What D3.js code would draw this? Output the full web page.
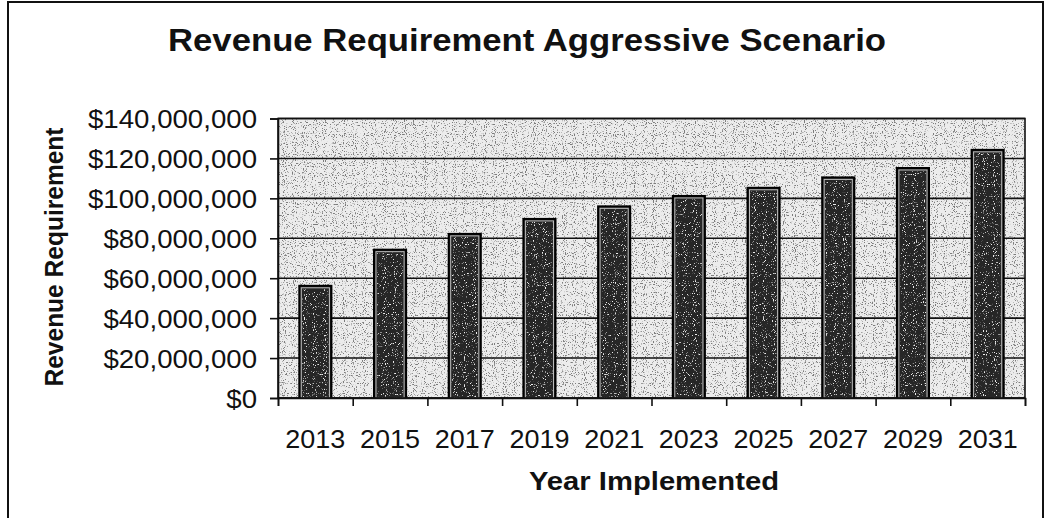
<!DOCTYPE html>
<html>
<head>
<meta charset="utf-8">
<script src="https://cdn.jsdelivr.net/npm/d3@7"></script>
<style>
  html, body { margin: 0; padding: 0; background: #fff; }
  svg { display: block; font-family: "Liberation Sans", Arial, sans-serif; }
</style>
</head>
<body>
<svg id="chart" width="1045" height="518"></svg>
<script>
const years = ["2013", "2015", "2017", "2019", "2021", "2023", "2025", "2027", "2029", "2031"];
const revenue = [56200000, 74300000, 82200000, 89700000, 96000000, 101200000, 105300000, 110500000, 115200000, 124300000];
const yTicks = [0, 20000000, 40000000, 60000000, 80000000, 100000000, 120000000, 140000000];
const chartTitle = "Revenue Requirement Aggressive Scenario";
const xTitle = "Year Implemented";
const yTitle = "Revenue Requirement";

const svg = d3.select("#chart");
const plot = { left: 278, right: 1025, top: 118.5, bottom: 398 };

const defs = svg.append("defs");
const f1 = defs.append("filter").attr("id", "stip").attr("x", 0).attr("y", 0).attr("width", "100%").attr("height", "100%");
f1.append("feTurbulence").attr("type", "fractalNoise").attr("baseFrequency", 0.9).attr("numOctaves", 1).attr("seed", 4).attr("result", "n");
f1.append("feColorMatrix").attr("in", "n").attr("type", "matrix")
  .attr("values", "0 0 0 0 0.2  0 0 0 0 0.2  0 0 0 0 0.2  9 0 0 0 -5.1").attr("result", "dots");
f1.append("feComposite").attr("in", "dots").attr("in2", "SourceGraphic").attr("operator", "in");
const f2 = defs.append("filter").attr("id", "stip2").attr("x", 0).attr("y", 0).attr("width", "100%").attr("height", "100%");
f2.append("feTurbulence").attr("type", "fractalNoise").attr("baseFrequency", 0.9).attr("numOctaves", 1).attr("seed", 9).attr("result", "n");
f2.append("feColorMatrix").attr("in", "n").attr("type", "matrix")
  .attr("values", "0 0 0 0 0.85  0 0 0 0 0.85  0 0 0 0 0.85  9 0 0 0 -5.4").attr("result", "dots");
f2.append("feComposite").attr("in", "dots").attr("in2", "SourceGraphic").attr("operator", "in");

// outer chart border
svg.append("rect").attr("x", 8).attr("y", 2).attr("width", 1035).attr("height", 530)
  .attr("fill", "#fff").attr("stroke", "#111").attr("stroke-width", 2);

const x = d3.scaleBand().domain(years).range([plot.left, plot.right]).paddingInner(0.57).paddingOuter(0.285);
const xEdge = d3.scaleLinear().domain([0, years.length]).range([plot.left, plot.right]);
const y = d3.scaleLinear().domain([0, 140000000]).range([plot.bottom, plot.top]);

// plot background
svg.append("rect").attr("x", plot.left).attr("y", plot.top)
  .attr("width", plot.right - plot.left).attr("height", plot.bottom - plot.top)
  .attr("fill", "#ececec");
svg.append("rect").attr("x", plot.left).attr("y", plot.top)
  .attr("width", plot.right - plot.left).attr("height", plot.bottom - plot.top)
  .attr("fill", "#fff").attr("filter", "url(#stip)");

// gridlines
svg.append("g").selectAll("line").data(yTicks).join("line")
  .attr("x1", plot.left).attr("x2", plot.right)
  .attr("y1", d => y(d)).attr("y2", d => y(d))
  .attr("stroke", "#111").attr("stroke-width", 1.6);

// bars
const bars = svg.append("g");
bars.selectAll("rect.bar").data(revenue).join("rect").attr("class", "bar")
  .attr("x", (d, i) => x(years[i])).attr("y", d => y(d))
  .attr("width", x.bandwidth()).attr("height", d => y(0) - y(d))
  .attr("fill", "#262626").attr("stroke", "#000").attr("stroke-width", 2);
bars.selectAll("rect.speck").data(revenue).join("rect").attr("class", "speck")
  .attr("x", (d, i) => x(years[i]) + 3).attr("y", d => y(d) + 3)
  .attr("width", x.bandwidth() - 6).attr("height", d => y(0) - y(d) - 3)
  .attr("fill", "#fff").attr("filter", "url(#stip2)");
bars.selectAll("rect.inner").data(revenue).join("rect").attr("class", "inner")
  .attr("x", (d, i) => x(years[i]) + 2).attr("y", d => y(d) + 2)
  .attr("width", x.bandwidth() - 4).attr("height", d => y(0) - y(d) - 2)
  .attr("fill", "none").attr("stroke", "#bdbdbd").attr("stroke-width", 1);

// plot border
svg.append("rect").attr("x", plot.left).attr("y", plot.top)
  .attr("width", plot.right - plot.left).attr("height", plot.bottom - plot.top)
  .attr("fill", "none").attr("stroke", "#111").attr("stroke-width", 1.6);

// y axis
const yAxis = svg.append("g").attr("transform", `translate(${plot.left},0)`)
  .call(d3.axisLeft(y).tickValues(yTicks).tickSize(8).tickPadding(13)
    .tickFormat(d => "$" + d3.format(",")(d)));
yAxis.select(".domain").attr("stroke", "#111").attr("stroke-width", 1.6);
yAxis.selectAll(".tick line").attr("stroke", "#111").attr("stroke-width", 1.6);
const yLabels = yAxis.selectAll(".tick text").attr("font-size", 25).attr("fill", "#111")
  .attr("font-family", "'Liberation Sans', Arial, sans-serif").attr("dy", "0.36em");
let maxLen = 0;
yLabels.each(function () { maxLen = Math.max(maxLen, this.getComputedTextLength()); });
const stretch = 169 / maxLen;
yLabels.each(function () {
  d3.select(this).attr("textLength", this.getComputedTextLength() * stretch).attr("lengthAdjust", "spacingAndGlyphs");
});

// x axis ticks at category edges
const xTickAxis = svg.append("g").attr("transform", `translate(0,${plot.bottom})`)
  .call(d3.axisBottom(xEdge).tickValues(d3.range(0, years.length + 1)).tickSize(8).tickFormat(""));
xTickAxis.select(".domain").attr("stroke", "#111").attr("stroke-width", 1.6);
xTickAxis.selectAll(".tick line").attr("stroke", "#111").attr("stroke-width", 1.6);

// x labels
const xAxis = svg.append("g").attr("transform", `translate(0,${plot.bottom})`)
  .call(d3.axisBottom(x).tickSize(0).tickPadding(41));
xAxis.select(".domain").remove();
xAxis.selectAll(".tick text").attr("font-size", 26).attr("fill", "#111")
  .attr("font-family", "'Liberation Sans', Arial, sans-serif").attr("dy", "0.36em")
  .attr("textLength", 60).attr("lengthAdjust", "spacingAndGlyphs");

// titles
svg.append("text").attr("x", 527).attr("y", 51).attr("text-anchor", "middle")
  .attr("font-size", 31).attr("font-weight", "bold").attr("fill", "#111")
  .attr("textLength", 718).attr("lengthAdjust", "spacingAndGlyphs")
  .text(chartTitle);
svg.append("text").attr("x", 654).attr("y", 490).attr("text-anchor", "middle")
  .attr("font-size", 26).attr("font-weight", "bold").attr("fill", "#111")
  .attr("textLength", 250).attr("lengthAdjust", "spacingAndGlyphs")
  .text(xTitle);
svg.append("text").attr("transform", "translate(63,257) rotate(-90)").attr("text-anchor", "middle")
  .attr("font-size", 25).attr("font-weight", "bold").attr("fill", "#111")
  .attr("textLength", 259).attr("lengthAdjust", "spacingAndGlyphs")
  .text(yTitle);
</script>
</body>
</html>
